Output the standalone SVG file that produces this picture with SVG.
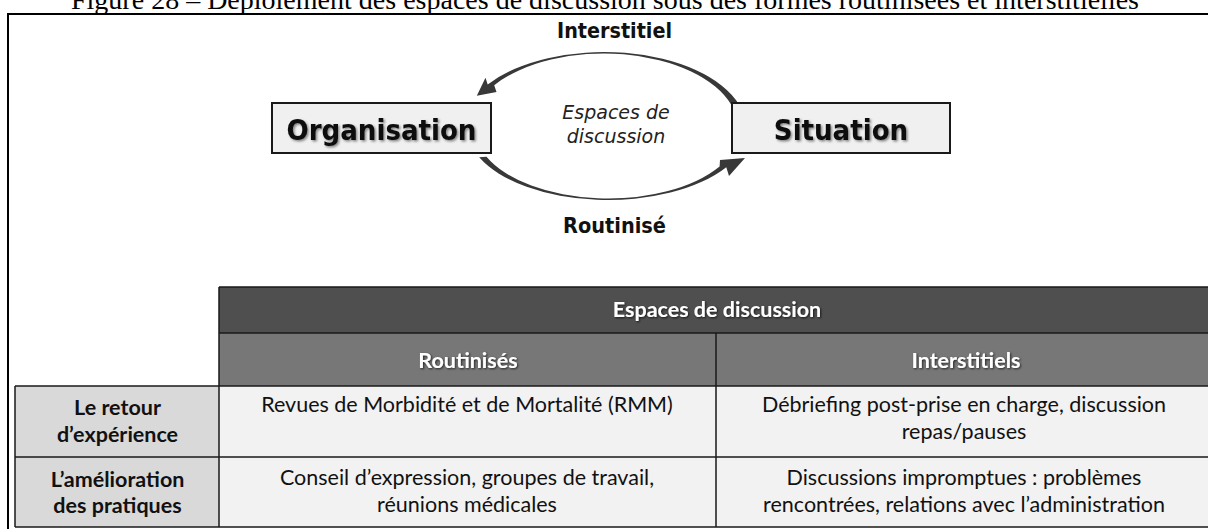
<svg xmlns="http://www.w3.org/2000/svg" width="1208" height="529" viewBox="0 0 1208 529">
<defs>
<filter id="sh" x="-10%" y="-30%" width="120%" height="160%">
<feDropShadow dx="1.5" dy="1.5" stdDeviation="1.2" flood-color="#000" flood-opacity="0.45"/>
</filter>
<filter id="shw" x="-10%" y="-30%" width="120%" height="160%">
<feDropShadow dx="1" dy="1" stdDeviation="0.8" flood-color="#000" flood-opacity="0.7"/>
</filter>
</defs>
<style>
.title{font-family:"Liberation Serif","Times New Roman",serif;font-size:27px;fill:#000}
.big{font-family:"DejaVu Sans Condensed","DejaVu Sans",sans-serif;font-weight:bold;font-size:29px;fill:#111}
.lab{font-family:"DejaVu Sans Condensed","DejaVu Sans",sans-serif;font-weight:bold;font-size:20.5px;fill:#111}
.ital{font-family:"DejaVu Sans","Noto Sans",sans-serif;font-style:italic;font-size:19px;fill:#222}
.box{fill:#f0f0f0;stroke:#1a1a1a;stroke-width:2}
.arc{fill:#383838}
.th{font-family:Lato,"Open Sans",sans-serif;font-weight:bold;font-size:21.5px;fill:#fff}
.rh{font-family:Lato,"Open Sans",sans-serif;font-weight:bold;font-size:21.5px;fill:#111}
.td{font-family:Lato,"Open Sans",sans-serif;font-size:21.5px;fill:#111}
.grid{stroke:#1a1a1a;stroke-width:1.5;fill:none}
</style>
<rect x="0" y="0" width="1208" height="529" fill="#fff"/>
<text class="title" x="605" y="9" text-anchor="middle" textLength="1068" lengthAdjust="spacingAndGlyphs">Figure 28 – Déploiement des espaces de discussion sous des formes routinisées et interstitielles</text>
<path d="M8,529 V14 H1208" fill="none" stroke="#000" stroke-width="2"/>

<g id="connectors">
<path class="arc" d="M739,104.5 A142 76 0 0 0 487.7,84.4 L485.5,77.7 L476.8,95.8 L496.5,91.9 L494.2,85.2 A134 74.5 0 0 1 731.4,105 Z"/>
<path class="arc" d="M479.2,157.3 A141 72 0 0 0 726.3,167.2 L729,176 L745,158 L720,160 L719.6,166.4 A133 70.5 0 0 1 486.5,156.7 Z"/>
</g>

<g id="label-interstitiel"><text class="lab" x="614.5" y="38" text-anchor="middle" textLength="115" lengthAdjust="spacingAndGlyphs">Interstitiel</text></g>
<g id="label-routinise"><text class="lab" x="614.5" y="233" text-anchor="middle" textLength="103" lengthAdjust="spacingAndGlyphs">Routinisé</text></g>
<g id="label-espaces">
<text class="ital" x="616" y="119" text-anchor="middle">Espaces de</text>
<text class="ital" x="616" y="143" text-anchor="middle">discussion</text>
</g>

<g id="node-organisation">
<rect class="box" x="272" y="103" width="219" height="50"/>
<text class="big" x="381.5" y="140" text-anchor="middle" filter="url(#sh)">Organisation</text>
</g>
<g id="node-situation">
<rect class="box" x="732" y="103" width="218" height="50"/>
<text class="big" x="841" y="140" text-anchor="middle" filter="url(#sh)">Situation</text>
</g>

<g id="table">
<rect x="219" y="287" width="995" height="46" fill="#4f4f4f"/>
<rect x="219" y="333" width="995" height="53" fill="#777"/>
<rect x="15" y="386" width="204" height="141" fill="#d9d9d9"/>
<rect x="219" y="386" width="995" height="141" fill="#f2f2f2"/>
<path class="grid" d="M219,287 H1214 M219,333 H1214 M15,386 H1214 M15,457 H1214 M15,527 H1214 M219,287 V527 M716,333 V527 M15,386 V527"/>
<text class="th" x="717" y="317" text-anchor="middle" filter="url(#shw)">Espaces de discussion</text>
<text class="th" x="468" y="368" text-anchor="middle" filter="url(#shw)">Routinisés</text>
<text class="th" x="966" y="368" text-anchor="middle" filter="url(#shw)">Interstitiels</text>
<text class="rh" x="117.5" y="415" text-anchor="middle">Le retour</text>
<text class="rh" x="117.5" y="442" text-anchor="middle">d’expérience</text>
<text class="rh" x="117.5" y="487" text-anchor="middle">L’amélioration</text>
<text class="rh" x="117.5" y="513" text-anchor="middle">des pratiques</text>
<text class="td" x="467" y="412" text-anchor="middle">Revues de Morbidité et de Mortalité (RMM)</text>
<text class="td" x="467" y="485" text-anchor="middle">Conseil d’expression, groupes de travail,</text>
<text class="td" x="467" y="512" text-anchor="middle">réunions médicales</text>
<text class="td" x="964" y="412" text-anchor="middle">Débriefing post-prise en charge, discussion</text>
<text class="td" x="964" y="439" text-anchor="middle">repas/pauses</text>
<text class="td" x="964" y="485" text-anchor="middle">Discussions impromptues : problèmes</text>
<text class="td" x="964" y="512" text-anchor="middle">rencontrées, relations avec l’administration</text>
</g>
</svg>
